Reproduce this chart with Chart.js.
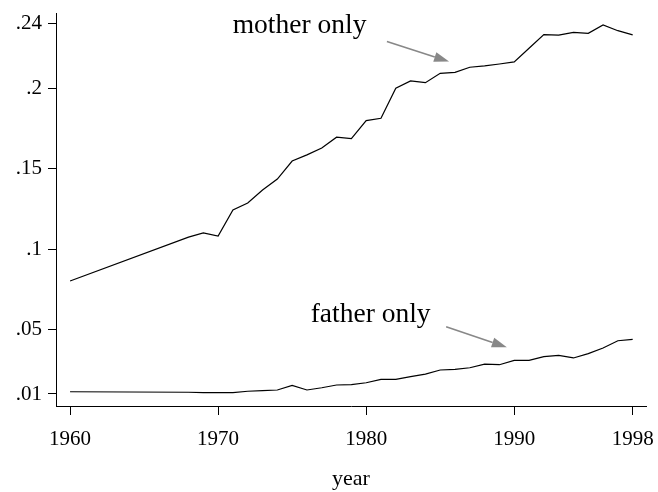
<!DOCTYPE html>
<html>
<head>
<meta charset="UTF-8">
<title>mother only / father only</title>
<script src="https://cdn.jsdelivr.net/npm/chart.js"></script>
<style>
  html, body { margin: 0; padding: 0; background: #fff; }
  #wrap { width: 658px; height: 492px; }
</style>
</head>
<body>
<div id="wrap"><canvas id="c" width="658" height="492"></canvas></div>
<script>
// data
const years = [1960, 1968, 1969, 1970, 1971, 1972, 1973, 1974, 1975, 1976, 1977, 1978, 1979,
  1980, 1981, 1982, 1983, 1984, 1985, 1986, 1987, 1988, 1989, 1990, 1991, 1992, 1993, 1994,
  1995, 1996, 1997, 1998];
const motherOnly = [0.0802, 0.1075, 0.1101, 0.1082, 0.1244, 0.1287, 0.1368, 0.1436, 0.1548,
  0.1586, 0.1629, 0.1696, 0.1687, 0.1799, 0.1814, 0.2000, 0.2046, 0.2035, 0.2093, 0.2099,
  0.2131, 0.2139, 0.2151, 0.2164, 0.2249, 0.2334, 0.2330, 0.2348, 0.2342, 0.2394, 0.2358, 0.2332];
const fatherOnly = [0.0114, 0.0111, 0.0109, 0.0109, 0.0109, 0.0117, 0.0121, 0.0125, 0.0154,
  0.0125, 0.0139, 0.0156, 0.0158, 0.0170, 0.0191, 0.0191, 0.0208, 0.0224, 0.0249, 0.0253,
  0.0263, 0.0286, 0.0282, 0.0309, 0.0309, 0.0332, 0.0340, 0.0324, 0.0351, 0.0386, 0.0431, 0.0440];

const xTicks = [1960, 1970, 1980, 1990, 1998];
const yTicks = [0.01, 0.05, 0.1, 0.15, 0.2, 0.24];
const yTickLabels = ['.01', '.05', '.1', '.15', '.2', '.24'];

// labels with arrows, in data units: text anchor, arrow start, arrow end
const notes = [
  { text: 'mother only', x: 1975.5, y: 0.2344, from: [1981.4, 0.2291], to: [1985.6, 0.2166] },
  { text: 'father only', x: 1980.3, y: 0.0548, from: [1985.4, 0.0518], to: [1989.5, 0.0390] }
];

const FONT = '"Liberation Serif", "Times New Roman", serif';

// draws the text labels and grey arrows
const notesPlugin = {
  id: 'notes',
  afterDatasetsDraw(chart) {
    const { ctx, scales: { x, y } } = chart;
    ctx.save();
    notes.forEach(n => {
      ctx.fillStyle = '#000';
      ctx.font = '27.5px ' + FONT;
      ctx.textAlign = 'center';
      ctx.textBaseline = 'alphabetic';
      ctx.fillText(n.text, x.getPixelForValue(n.x), y.getPixelForValue(n.y));

      const x1 = x.getPixelForValue(n.from[0]), y1 = y.getPixelForValue(n.from[1]);
      const x2 = x.getPixelForValue(n.to[0]), y2 = y.getPixelForValue(n.to[1]);
      const a = Math.atan2(y2 - y1, x2 - x1);
      const len = 15, half = 5;
      const bx = x2 - len * Math.cos(a), by = y2 - len * Math.sin(a);
      ctx.strokeStyle = '#888';
      ctx.fillStyle = '#888';
      ctx.lineWidth = 1.6;
      ctx.beginPath();
      ctx.moveTo(x1, y1);
      ctx.lineTo(bx, by);
      ctx.stroke();
      ctx.beginPath();
      ctx.moveTo(x2, y2);
      ctx.lineTo(bx + half * Math.sin(a), by - half * Math.cos(a));
      ctx.lineTo(bx - half * Math.sin(a), by + half * Math.cos(a));
      ctx.closePath();
      ctx.fill();
    });
    ctx.restore();
  }
};

const toPoints = vals => vals.map((v, i) => ({ x: years[i], y: v }));

new Chart(document.getElementById('c'), {
  type: 'line',
  data: {
    datasets: [
      { label: 'mother only', data: toPoints(motherOnly), borderColor: '#000', borderWidth: 1.2,
        pointRadius: 0, tension: 0, fill: false },
      { label: 'father only', data: toPoints(fatherOnly), borderColor: '#000', borderWidth: 1.2,
        pointRadius: 0, tension: 0, fill: false }
    ]
  },
  options: {
    responsive: false,
    animation: false,
    layout: { padding: { top: 13, right: 12, left: 0, bottom: 0 } },
    plugins: { legend: { display: false }, tooltip: { enabled: false } },
    scales: {
      x: {
        type: 'linear',
        min: 1959.05,
        max: 1998.9,
        afterBuildTicks: s => { s.ticks = xTicks.map(v => ({ value: v })); },
        afterFit: s => { s.height = 86; s.paddingLeft = 0; s.paddingRight = 0; },
        ticks: { color: '#000', font: { family: FONT, size: 21 }, padding: 12, maxRotation: 0,
          callback: v => String(v) },
        grid: { drawOnChartArea: false, drawTicks: true, tickLength: 9, color: '#000', lineWidth: 1 },
        border: { display: true, color: '#000', width: 1 },
        title: { display: true, text: 'year', color: '#000', font: { family: FONT, size: 22 },
          padding: { top: 10, bottom: 0 } }
      },
      y: {
        type: 'linear',
        min: 0.00254,
        max: 0.2468,
        afterBuildTicks: s => { s.ticks = yTicks.map(v => ({ value: v })); },
        afterFit: s => { s.width = 56; s.paddingTop = 0; s.paddingBottom = 0; },
        ticks: { color: '#000', font: { family: FONT, size: 21 }, padding: 6,
          callback: v => yTickLabels[yTicks.indexOf(v)] },
        grid: { drawOnChartArea: false, drawTicks: true, tickLength: 8, color: '#000', lineWidth: 1 },
        border: { display: true, color: '#000', width: 1 }
      }
    }
  },
  plugins: [notesPlugin]
});
</script>
</body>
</html>
